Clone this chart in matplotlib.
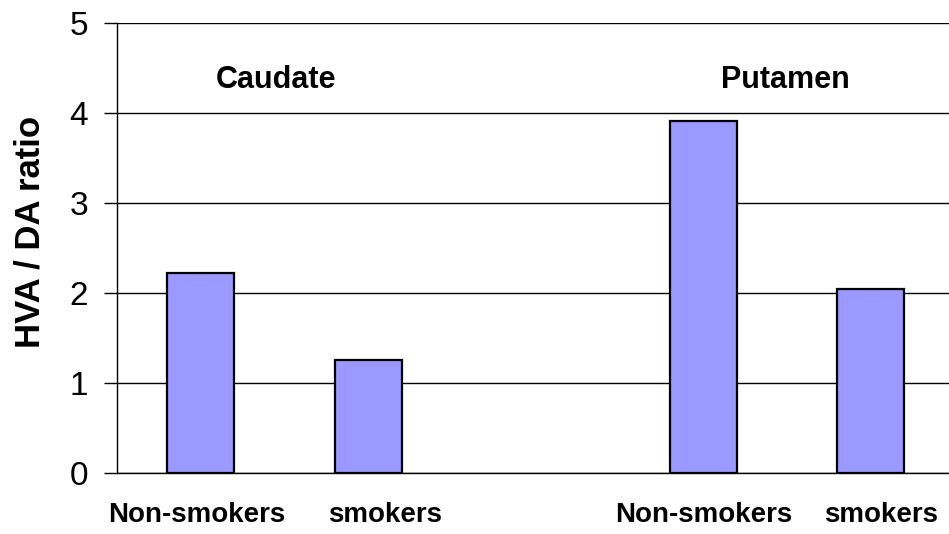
import matplotlib.pyplot as plt

# -------------------------
# Data
# -------------------------

groups = ["Non-smokers", "smokers", "Non-smokers", "smokers"]
positions = [0, 1, 3, 4]
ratios = [2.22, 1.26, 3.92, 2.05]

regions = ["Caudate", "Putamen"]
region_x = [0.45, 3.49]

plt.rcParams["font.family"] = ["Liberation Sans", "DejaVu Sans"]

# -------------------------
# Plot
# -------------------------

fig = plt.figure(figsize=(9.49, 5.34), dpi=100)
ax = fig.add_axes([0.123, 0.114, 0.877, 0.842])

ax.set_axisbelow(True)
ax.yaxis.grid(True, color="black", linewidth=1.0)

ax.bar(
    positions,
    ratios,
    width=0.4,
    color="#9999FF",
    edgecolor="black",
    linewidth=1.6,
    zorder=3
)

for name, x in zip(regions, region_x):
    ax.text(
        x,
        4.37,
        name,
        ha="center",
        va="center",
        fontsize=22,
        fontweight="bold"
    )

# small nudges so the labels sit as in the original slide
label_shift = [-0.02, 0.1, 0.0, 0.06]

for g, x, s in zip(groups, positions, label_shift):
    ax.text(
        x + s,
        -0.47,
        g,
        ha="center",
        va="center",
        fontsize=20,
        fontweight="bold"
    )

# -------------------------
# Formatting
# -------------------------

ax.set_xlim(-0.5, 4.466)
ax.set_ylim(0, 5)

ax.set_xticks([])
ax.set_yticks([0, 1, 2, 3, 4, 5])
ax.tick_params(axis="y", length=9.5, width=1.0, labelsize=24, pad=11)

fig.text(
    30 / 949,
    1 - 232 / 534,
    "HVA / DA ratio",
    rotation=90,
    ha="center",
    va="center",
    fontsize=25,
    fontweight="bold"
)

for s in ["top", "right"]:
    ax.spines[s].set_visible(False)
ax.spines["left"].set_linewidth(1.0)
ax.spines["bottom"].set_linewidth(1.0)

plt.savefig("out.png", dpi=100)
